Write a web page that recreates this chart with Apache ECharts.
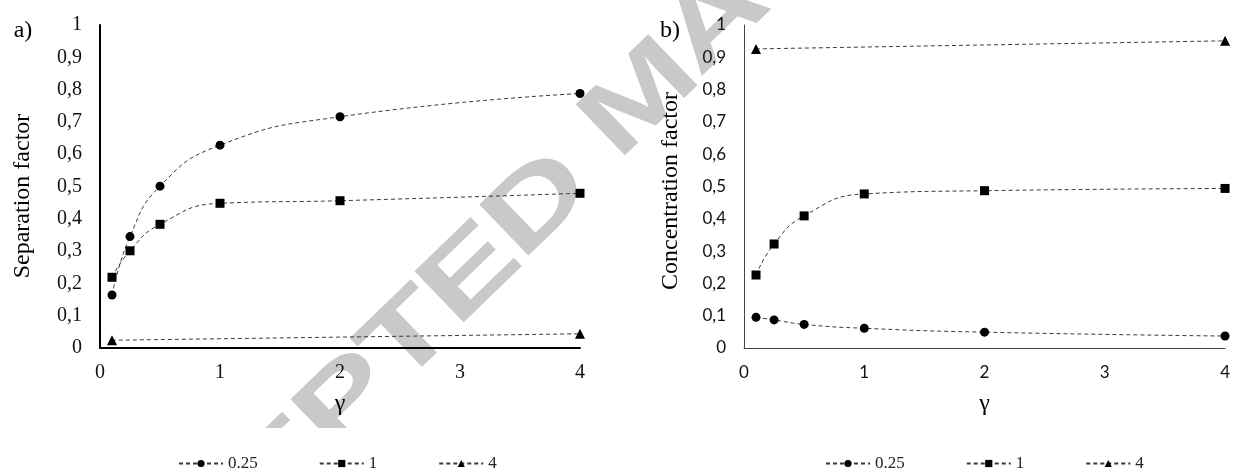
<!DOCTYPE html>
<html>
<head>
<meta charset="utf-8">
<script src="https://cdn.jsdelivr.net/npm/echarts@6/dist/echarts.min.js"></script>
<style>html,body{margin:0;padding:0;background:#fff;}#c{width:1233px;height:468px;}</style>
</head>
<body>
<div id="c"></div>
<script>
// ---- data ----
const legendNames = ['0.25', '1', '4'];
const yTickLabels = ['0', '0,1', '0,2', '0,3', '0,4', '0,5', '0,6', '0,7', '0,8', '0,9', '1'];
const xTicks = [0, 1, 2, 3, 4];
const gamma = [0.1, 0.25, 0.5, 1, 2, 4];
const gamma4 = [0.1, 4];
// panel a) Separation factor
const sepA_025 = [0.164, 0.345, 0.501, 0.628, 0.716, 0.788];
const sepA_1 = [0.219, 0.301, 0.383, 0.448, 0.456, 0.479];
const sepA_4 = [0.024, 0.044];
// panel b) Concentration factor
const conB_025 = [0.095, 0.087, 0.073, 0.061, 0.049, 0.037];
const conB_1 = [0.226, 0.322, 0.409, 0.477, 0.487, 0.494];
const conB_4 = [0.926, 0.951];
// watermark letters (decorative)
const wmLetters = ['E', 'P', 'T', 'E', 'D', 'M', 'A'];

const zip = (xs, ys) => xs.map((x, i) => [x, ys[i]]);
const SERIF = '"Liberation Serif", "Times New Roman", serif';
const SANS = 'Lato, "Open Sans", sans-serif';
const symbols = ['circle', 'rect', 'triangle'];
const symSizes = [9, 9, 10];

function mkSeries(idx, name, xs, ys, k) {
  return {
    type: 'line', name: name, xAxisIndex: idx, yAxisIndex: idx,
    data: zip(xs, ys), smooth: 0.5,
    symbol: symbols[k], symbolSize: symSizes[k],
    itemStyle: { color: '#000' },
    lineStyle: { color: '#3a3a3a', width: 1, type: [4, 3] },
    z: 3
  };
}

function xAx(idx, font, fs, lineW, lineC, margin) {
  return {
    type: 'value', gridIndex: idx, min: 0, max: 4, interval: 1,
    name: 'γ', nameLocation: 'middle', nameGap: 44,
    nameTextStyle: { fontFamily: SERIF, fontSize: 24, color: '#000' },
    axisLine: { show: true, onZero: false, lineStyle: { color: lineC, width: lineW } },
    axisTick: { show: false }, splitLine: { show: false },
    axisLabel: { fontFamily: font, fontSize: fs, color: '#111', margin: margin,
      formatter: v => String(xTicks[Math.round(v)]) }
  };
}
function yAx(idx, font, fs, lineW, lineC) {
  return {
    type: 'value', gridIndex: idx, min: 0, max: 1, interval: 0.1,
    axisLine: { show: true, lineStyle: { color: lineC, width: lineW } },
    axisTick: { show: false }, splitLine: { show: false },
    axisLabel: { fontFamily: font, fontSize: fs, color: '#111', margin: 18,
      formatter: v => yTickLabels[Math.round(v * 10)] }
  };
}
function mkLegend(left) {
  return {
    left: left, top: 450, orient: 'horizontal', itemGap: 61,
    itemWidth: 44, itemHeight: 9, selectedMode: false,
    data: legendNames,
    textStyle: { fontFamily: SERIF, fontSize: 17, color: '#222' }
  };
}

// watermark geometry: letters placed along a diagonal
const wmStart = [283, 470], wmStep = [62, -64];
const wmOffsets = [0, 1.044, 2.044, 3.044, 4.131, 5.783, 7.0];
const wmPts = wmOffsets.map(o => [wmStart[0] + o * wmStep[0], wmStart[1] + o * wmStep[1]]);
const wmGraphics = wmLetters.map((ch, i) => ({
  type: 'text', silent: true, z: -10,
  x: wmPts[i][0], y: wmPts[i][1],
  rotation: 44 * Math.PI / 180, scaleX: 1.4,
  style: { text: ch, fontSize: 103, fontWeight: 'bold', fontFamily: '"Liberation Sans", Arial, sans-serif',
    fill: '#c9c9c9', align: 'center', textAlign: 'center', verticalAlign: 'middle', textVerticalAlign: 'middle' }
}));

function label(txt, x, y, fs, rot) {
  return { type: 'text', x: x, y: y, rotation: rot || 0, z: 5,
    style: { text: txt, fontSize: fs, fontFamily: SERIF, fill: '#000', align: 'center', textAlign: 'center',
      verticalAlign: 'middle', textVerticalAlign: 'middle' } };
}

const chart = echarts.init(document.getElementById('c'), null, { renderer: 'canvas' });
chart.setOption({
  animation: false,
  backgroundColor: '#fff',
  grid: [
    { left: 100, top: 25, width: 480, height: 323 },
    { left: 744, top: 25, width: 484, height: 323 }
  ],
  xAxis: [xAx(0, SERIF, 20, 2, '#000', 15), xAx(1, SANS, 17, 1, '#444', 16)],
  yAxis: [yAx(0, SERIF, 20, 2, '#000'), yAx(1, SANS, 17, 1, '#444')],
  legend: [mkLegend(173), mkLegend(820)],
  graphic: wmGraphics.concat([
    { type: 'rect', z: -5, silent: true, shape: { x: 0, y: 428, width: 1233, height: 40 }, style: { fill: '#fff' } },
    label('a)', 23, 31, 24),
    label('b)', 670, 31, 24),
    label('Separation factor', 23, 196, 24, Math.PI / 2),
    label('Concentration factor', 671, 191, 24, Math.PI / 2)
  ]),
  series: [
    mkSeries(0, legendNames[0], gamma, sepA_025, 0),
    mkSeries(0, legendNames[1], gamma, sepA_1, 1),
    mkSeries(0, legendNames[2], gamma4, sepA_4, 2),
    mkSeries(1, legendNames[0], gamma, conB_025, 0),
    mkSeries(1, legendNames[1], gamma, conB_1, 1),
    mkSeries(1, legendNames[2], gamma4, conB_4, 2)
  ]
});
</script>
</body>
</html>
